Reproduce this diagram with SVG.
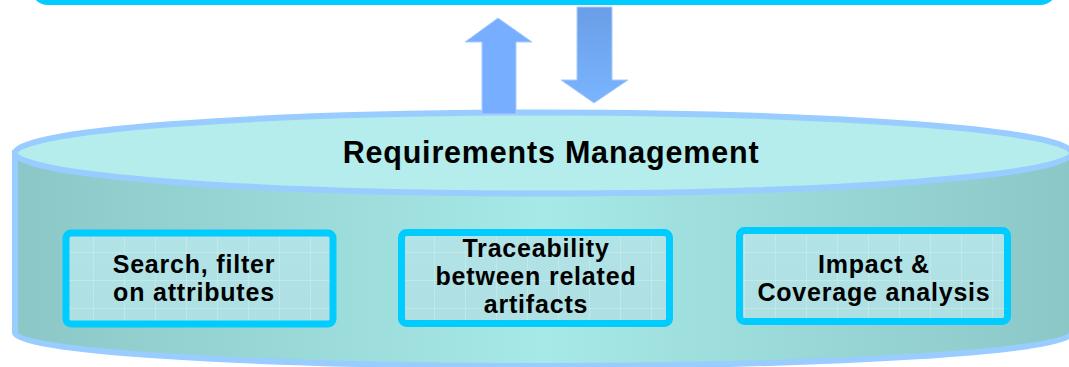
<svg xmlns="http://www.w3.org/2000/svg" width="1069" height="367" viewBox="0 0 1069 367">
  <style>
    .lbl { font-family: "Liberation Sans", Arial, sans-serif; font-weight: bold; fill: #000; text-anchor: middle; }
    .title { font-size: 30.5px; letter-spacing: 0.8px; }
    .box-text { font-size: 25px; letter-spacing: 0.8px; }
    .feature { fill: url(#boxFill); stroke: #00CCFF; stroke-width: 7; }
    .grid { fill: url(#grid); stroke: none; }
    .cyl-stroke { stroke: #99CCFF; stroke-width: 6; }
  </style>
  <defs>
    <linearGradient id="bodyGrad" x1="0" y1="0" x2="1" y2="0">
      <stop offset="0" stop-color="#8CC7C7"/>
      <stop offset="0.5" stop-color="#A6E9E7"/>
      <stop offset="1" stop-color="#8CC7C7"/>
    </linearGradient>
    <linearGradient id="boxFill" x1="0" y1="0" x2="0" y2="1">
      <stop offset="0" stop-color="#B2E3E6"/>
      <stop offset="1" stop-color="#AEDFE2"/>
    </linearGradient>
    <linearGradient id="downGrad" x1="0" y1="0" x2="0" y2="1">
      <stop offset="0" stop-color="#6A9EE6"/>
      <stop offset="1" stop-color="#7AB4FF"/>
    </linearGradient>
    <pattern id="grid" width="31" height="28" patternUnits="userSpaceOnUse">
      <path d="M0.5,0 V28 M0,0.5 H31" fill="none" stroke="#FFFFFF" stroke-opacity="0.22" stroke-width="1"/>
    </pattern>
  </defs>

  <g id="top-box">
    <rect x="33" y="-100" width="1022" height="102.5" rx="15" ry="15" fill="#FFFFFF" stroke="#00CCFF" stroke-width="5"/>
  </g>

  <g id="cylinder">
    <path class="cyl-stroke" d="M15,153 L15,333 A528.5,33 0 0 0 1072,333 L1072,153 Z" fill="url(#bodyGrad)"/>
    <ellipse class="cyl-stroke" cx="543.5" cy="153" rx="528.5" ry="40.5" fill="#B4EDEB"/>
    <text class="lbl title" x="551" y="163">Requirements Management</text>
  </g>

  <g id="connectors">
    <polygon id="arrow-up" points="498,18 532,42 516,42 516,114 482,114 482,42 465,42" fill="#77AEFF" stroke="#A8CCFF" stroke-width="1"/>
    <polygon id="arrow-down" points="577,7 612,7 612,80 628,80 594,103 561,80 577,80" fill="url(#downGrad)" stroke="#A8CCFF" stroke-width="1"/>
  </g>

  <g id="box-search">
    <rect class="feature" x="66" y="233" width="267" height="91" rx="5" ry="5"/>
    <rect class="grid" x="69.5" y="236.5" width="260" height="84"/>
    <text class="lbl box-text" x="194" y="273">Search, filter</text>
    <text class="lbl box-text" x="194" y="301">on attributes</text>
  </g>

  <g id="box-trace">
    <rect class="feature" x="401.5" y="232.5" width="268" height="91" rx="5" ry="5"/>
    <rect class="grid" x="405" y="236" width="261" height="84"/>
    <text class="lbl box-text" x="536" y="256.5">Traceability</text>
    <text class="lbl box-text" x="536" y="285">between related</text>
    <text class="lbl box-text" x="536" y="313">artifacts</text>
  </g>

  <g id="box-impact">
    <rect class="feature" x="739.5" y="230.5" width="268" height="91" rx="5" ry="5"/>
    <rect class="grid" x="743" y="234" width="261" height="84"/>
    <text class="lbl box-text" x="874" y="273">Impact &amp;</text>
    <text class="lbl box-text" x="874" y="301">Coverage analysis</text>
  </g>
</svg>
